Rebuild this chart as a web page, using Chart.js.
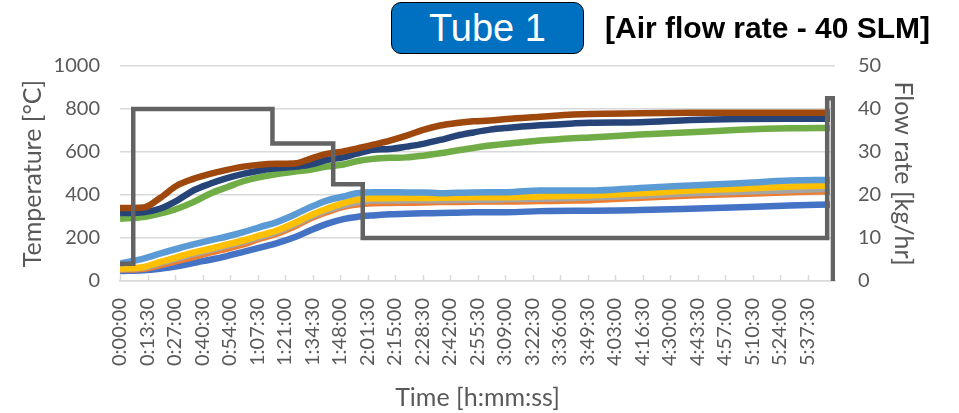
<!DOCTYPE html>
<html>
<head>
<meta charset="utf-8">
<script src="https://cdn.jsdelivr.net/npm/chart.js@4/dist/chart.umd.min.js"></script>
<style>
  html, body { margin: 0; padding: 0; background: #ffffff; }
  #wrap { position: relative; width: 959px; height: 413px; overflow: hidden; }
  #chart { position: absolute; left: 0; top: 0; }
  #tube {
    position: absolute; left: 391px; top: 2px; width: 193px; height: 52px;
    box-sizing: border-box; background: #0070C0; border: 1.3px solid #000;
    border-radius: 10px; color: #fff; font-family: "Liberation Sans", Arial, sans-serif;
    font-size: 38px; line-height: 51px; text-align: center;
  }
  #flowNote {
    position: absolute; left: 605px; top: 8px; font-family: "Liberation Sans", Arial, sans-serif;
    font-weight: bold; font-size: 30px; line-height: 40px; color: #000; white-space: nowrap;
  }
</style>
</head>
<body>
<div id="wrap">
  <canvas id="chart" width="959" height="413"></canvas>
  <div id="tube">Tube 1</div>
  <div id="flowNote">[Air flow rate - 40 SLM]</div>
</div>
<script>
// Elapsed time of each temperature sample, in seconds
const elapsedSec = [0, 690, 1170, 1680, 2160, 2650, 3150, 3630, 4120, 4620, 5200, 5600,
  6090, 6580, 6970, 7460, 7950, 8440, 8930, 9430, 9920, 10410, 10900, 11390,
  12370, 13350, 13840, 15320, 16790, 18260, 19730, 20910];

// Thermocouple readings [°C]
const tc1 = [46, 50, 57, 68, 84, 99, 116, 135, 155, 176, 207, 235, 266, 288, 298, 305, 310, 313, 315, 316, 318, 320, 320, 320, 325, 327, 327, 330, 336, 343, 351, 356];
const tc2 = [53, 57, 73, 93, 111, 132, 150, 170, 197, 220, 258, 290, 320, 345, 356, 362, 363, 364, 365, 367, 368, 369, 370, 370, 372, 374, 376, 387, 398, 405, 413, 418];
const tc3 = [55, 62, 83, 105, 126, 144, 164, 182, 205, 228, 267, 297, 328, 352, 366, 374, 374, 375, 376, 376, 377, 378, 378, 380, 382, 386, 388, 397, 408, 415, 422, 429];
const tc4 = [57, 65, 88, 111, 132, 150, 170, 189, 212, 235, 274, 305, 336, 362, 378, 385, 385, 386, 386, 387, 388, 389, 390, 390, 393, 396, 398, 408, 421, 429, 439, 444];
const tc5 = [81, 104, 127, 150, 170, 189, 207, 227, 251, 274, 313, 343, 374, 393, 408, 413, 413, 412, 412, 408, 410, 412, 413, 413, 421, 421, 421, 433, 444, 455, 467, 470];
const tc6 = [290, 297, 313, 336, 367, 406, 436, 464, 483, 498, 510, 517, 532, 542, 557, 568, 573, 575, 583, 594, 607, 619, 630, 638, 653, 664, 668, 681, 692, 703, 710, 712];
const tc7 = [316, 320, 336, 374, 421, 452, 478, 498, 514, 524, 532, 541, 563, 575, 592, 610, 614, 625, 638, 656, 676, 691, 704, 712, 724, 733, 736, 738, 749, 754, 755, 755];
const tc8 = [340, 342, 385, 444, 475, 498, 517, 532, 541, 545, 548, 568, 591, 603, 616, 634, 653, 676, 703, 723, 735, 743, 746, 754, 764, 774, 777, 780, 782, 783, 783, 783];

// Flow-rate set points [kg/hr] and the times they start
const flowSec = [0, 390, 4490, 6280, 7150, 20830, 21000];
const flowRate = [4, 40, 32, 22.5, 10, 42.5, 0];

// Axis ranges and tick steps
const timeMax = 21060;
const timeStep = 810;
const tempMax = 1000, tempStep = 200;
const flowMax = 50, flowStep = 10;

const tcSeries = [tc1, tc2, tc3, tc4, tc5, tc6, tc7, tc8];
const tcNames = ['TC1', 'TC2', 'TC3', 'TC4', 'TC5', 'TC6', 'TC7', 'TC8'];
const tcColors = ['#4472C4', '#ED7D31', '#A5A5A5', '#FFC000', '#5B9BD5', '#70AD47', '#264478', '#9E480E'];

function hms(sec) {
  const h = Math.floor(sec / 3600);
  const m = Math.floor((sec % 3600) / 60);
  const s = Math.round(sec % 60);
  return h + ':' + String(m).padStart(2, '0') + ':' + String(s).padStart(2, '0');
}

const datasets = tcSeries.map((vals, i) => ({
  label: tcNames[i],
  data: vals.map((v, k) => ({ x: elapsedSec[k], y: v })),
  borderColor: tcColors[i],
  backgroundColor: tcColors[i],
  borderWidth: 6.5,
  pointRadius: 0,
  cubicInterpolationMode: 'monotone',
  yAxisID: 'y',
  order: 10 - i
}));

datasets.push({
  label: 'Flow rate',
  data: flowRate.map((v, k) => ({ x: flowSec[k], y: v })),
  borderColor: '#636363',
  backgroundColor: '#636363',
  borderWidth: 4.5,
  pointRadius: 0,
  stepped: true,
  borderJoinStyle: 'miter',
  borderCapStyle: 'butt',
  yAxisID: 'y1',
  order: 0
});

// Short tick marks that rise from the time axis into the plot
const innerTicks = {
  id: 'innerTicks',
  afterDatasetsDraw(chart) {
    const xs = chart.scales.x;
    const ctx = chart.ctx;
    ctx.save();
    ctx.strokeStyle = '#d9d9d9';
    ctx.lineWidth = 1.5;
    xs.ticks.forEach(t => {
      if (t.value >= timeMax) return;
      const px = Math.round(xs.getPixelForValue(t.value)) + 0.5;
      ctx.beginPath();
      ctx.moveTo(px, xs.top);
      ctx.lineTo(px, xs.top - 6);
      ctx.stroke();
    });
    ctx.restore();
  }
};

Chart.defaults.font.family = 'Lato';
Chart.defaults.color = '#595959';

const titleFont = { size: 25 };

new Chart(document.getElementById('chart'), {
  type: 'line',
  data: { datasets },
  plugins: [innerTicks],
  options: {
    responsive: false,
    animation: false,
    layout: { padding: { top: 66, left: 0, right: 0, bottom: 0 } },
    plugins: { legend: { display: false }, tooltip: { enabled: false } },
    scales: {
      x: {
        type: 'linear',
        min: 0, max: timeMax,
        afterFit(s) { s.height = 132; },
        border: { display: true, color: '#d9d9d9', width: 1.5 },
        grid: { display: false, drawTicks: false },
        ticks: {
          stepSize: timeStep,
          autoSkip: false,
          minRotation: 90, maxRotation: 90,
          padding: 17,
          font: { size: 20 },
          color: '#595959',
          callback: v => (v >= timeMax ? '' : hms(v))
        },
        title: { display: true, text: 'Time [h:mm:ss]', font: titleFont, color: '#595959', padding: { top: 1, bottom: 0 } }
      },
      y: {
        position: 'left',
        min: 0, max: tempMax,
        afterFit(s) { s.width = 120; },
        border: { display: false },
        grid: { color: '#d9d9d9', lineWidth: 1.5, drawTicks: false },
        ticks: { stepSize: tempStep, padding: 20, font: { size: 20 }, color: '#595959', callback: v => String(v) },
        title: { display: true, text: 'Temperature [°C]', font: titleFont, color: '#595959', padding: { top: 18, bottom: 0 } }
      },
      y1: {
        position: 'right',
        min: 0, max: flowMax,
        afterFit(s) { s.width = 124; },
        border: { display: false },
        grid: { display: false, drawTicks: false },
        ticks: { stepSize: flowStep, padding: 23, font: { size: 20 }, color: '#595959', callback: v => String(v) },
        title: { display: true, text: 'Flow rate [kg/hr]', font: titleFont, color: '#595959', padding: { top: 41, bottom: 0 } }
      }
    }
  }
});
</script>
</body>
</html>
